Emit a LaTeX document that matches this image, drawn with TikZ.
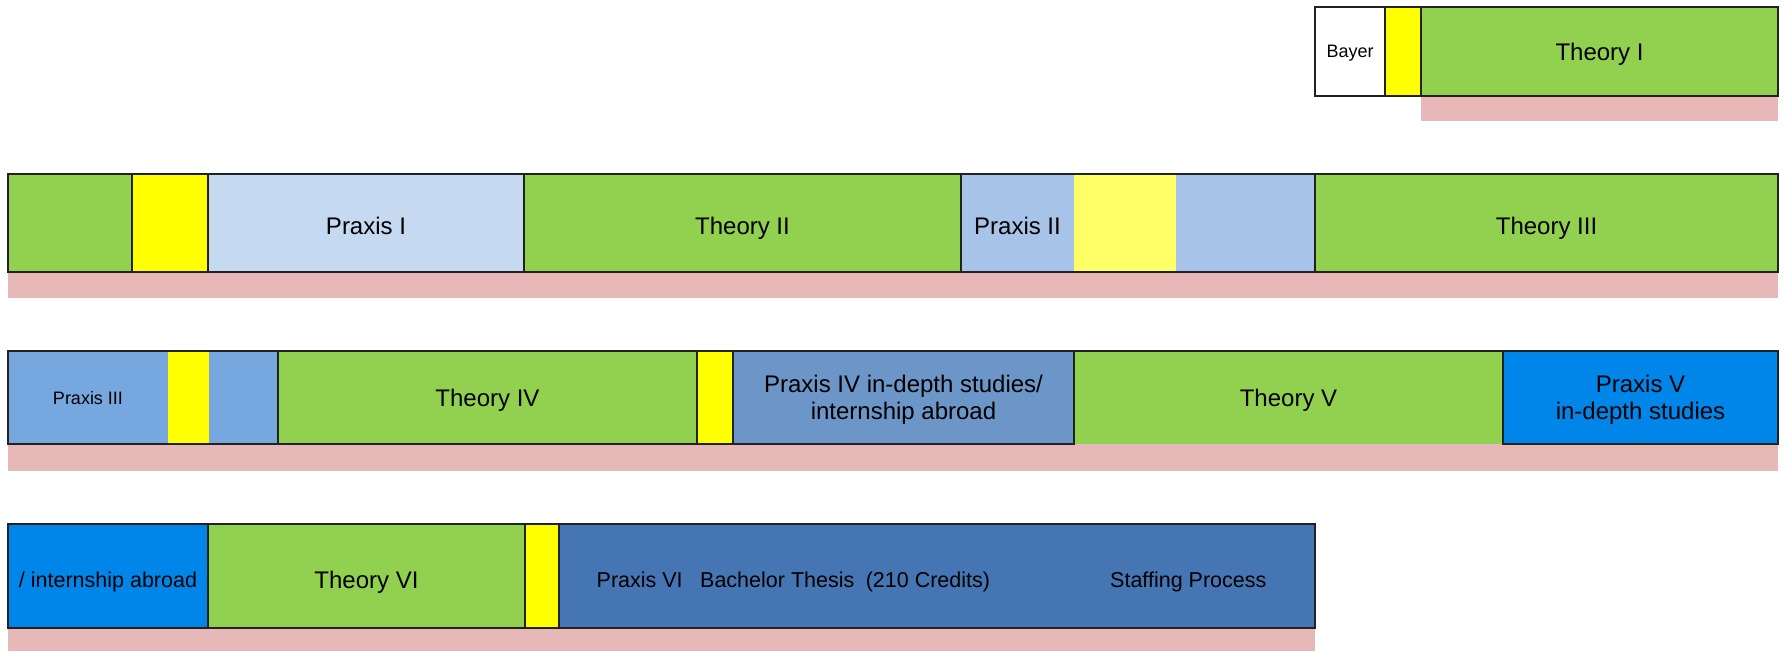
\documentclass[tikz,border=0pt]{standalone}
\usepackage{fontspec}
\setmainfont{Liberation Sans}
\definecolor{theory}{HTML}{92D050}
\definecolor{exam}{HTML}{FFFF00}
\definecolor{examlight}{HTML}{FFFF66}
\definecolor{praxisA}{HTML}{C5D9F1}
\definecolor{praxisB}{HTML}{A7C4E8}
\definecolor{praxisC}{HTML}{77A7DF}
\definecolor{praxisD}{HTML}{6D96C8}
\definecolor{praxisE}{HTML}{0085E9}
\definecolor{praxisF}{HTML}{4575B2}
\definecolor{credit}{HTML}{E6B8B7}
\definecolor{frame}{HTML}{222222}
\tikzset{
  seg/.style={rectangle, inner sep=0pt, outer sep=0pt, anchor=north west,
    draw=frame, line width=1.3pt, align=center, text depth=0pt,
    font=\fontsize{21.5}{27}\selectfont},
  bare/.style={seg, draw=none},
  big/.style={font=\fontsize{24}{28}\selectfont},
  mid/.style={font=\fontsize{24}{27.5}\selectfont},
  small/.style={font=\fontsize{18}{22}\selectfont},
  sink/.style={text height=#1},
  band/.style={fill=credit},
  outline/.style={draw=frame, line width=1.3pt},
  label/.style={anchor=west, inner sep=0pt, font=\fontsize{21.5}{25}\selectfont}
}
\begin{document}
\begin{tikzpicture}[x=1pt,y=-1pt]
\useasboundingbox (0,0) rectangle (1785,651);

% credit bands under each row
\fill[band] (1421,96) rectangle (1778,121);
\fill[band] (8,272) rectangle (1778,298);
\fill[band] (8,444) rectangle (1778,471);
\fill[band] (8,628) rectangle (1315,651);

% row 1
\node[seg, small, fill=white, minimum width=70pt, minimum height=89pt] (bayer) at (1315,7) {Bayer};
\node[seg, fill=exam, minimum width=36pt, minimum height=89pt] (ex1) at (1385,7) {};
\node[seg, big, fill=theory, minimum width=357pt, minimum height=89pt] (th1) at (1421,7) {Theory I};

% row 2
\node[seg, fill=theory, minimum width=124pt, minimum height=98pt] (th1b) at (8,174) {};
\node[seg, fill=exam, minimum width=76pt, minimum height=98pt] (ex2) at (132,174) {};
\node[seg, big, sink=22pt, fill=praxisA, minimum width=316pt, minimum height=98pt] (p1) at (208,174) {Praxis I};
\node[seg, big, sink=22pt, fill=theory, minimum width=437pt, minimum height=98pt] (th2) at (524,174) {Theory II};
\node[bare, big, sink=22pt, fill=praxisB, minimum width=113pt, minimum height=98pt] (p2) at (961,174) {Praxis II};
\node[bare, fill=examlight, minimum width=102pt, minimum height=98pt] (ex2b) at (1074,174) {};
\node[bare, fill=praxisB, minimum width=139pt, minimum height=98pt] (p2b) at (1176,174) {};
\draw[outline] (p2.north west) rectangle (p2b.south east);
\node[seg, big, sink=22pt, fill=theory, minimum width=463pt, minimum height=98pt] (th3) at (1315,174) {Theory III};

% row 3
\node[bare, small, fill=praxisC, minimum width=160pt, minimum height=93pt] (p3) at (8,351) {Praxis III};
\node[bare, fill=exam, minimum width=41pt, minimum height=93pt] (ex3) at (168,351) {};
\node[bare, fill=praxisC, minimum width=69pt, minimum height=93pt] (p3b) at (209,351) {};
\draw[outline] (p3.north west) rectangle (p3b.south east);
\node[seg, big, fill=theory, minimum width=419pt, minimum height=93pt] (th4) at (278,351) {Theory IV};
\node[seg, fill=exam, minimum width=36pt, minimum height=93pt] (ex3b) at (697,351) {};
\node[bare, big, fill=theory, minimum width=429pt, minimum height=93pt] (th5) at (1074,351) {Theory V};
\draw[outline] (th5.north west) -- (th5.north east);
\node[seg, mid, fill=praxisD, minimum width=341pt, minimum height=93pt] (p4) at (733,351) {Praxis IV in-depth studies/\\internship abroad};
\node[seg, mid, fill=praxisE, minimum width=275pt, minimum height=93pt] (p5) at (1503,351) {Praxis V\\in-depth studies};

% row 4
\node[seg, sink=22.5pt, fill=praxisE, minimum width=200pt, minimum height=104pt] (p5b) at (8,524) {/ internship abroad};
\node[seg, big, sink=24.5pt, fill=theory, minimum width=317pt, minimum height=104pt] (th6) at (208,524) {Theory VI};
\node[seg, fill=exam, minimum width=34pt, minimum height=104pt] (ex4) at (525,524) {};
\node[seg, fill=praxisF, minimum width=756pt, minimum height=104pt] (p6) at (559,524) {};
\node[label] (thesis) at (596.5,582) {Praxis VI\hspace{11.5pt} Bachelor Thesis\hspace{5.5pt} (210 Credits)};
\node[label] (staff) at (1110,582) {Staffing Process};
\end{tikzpicture}
\end{document}
